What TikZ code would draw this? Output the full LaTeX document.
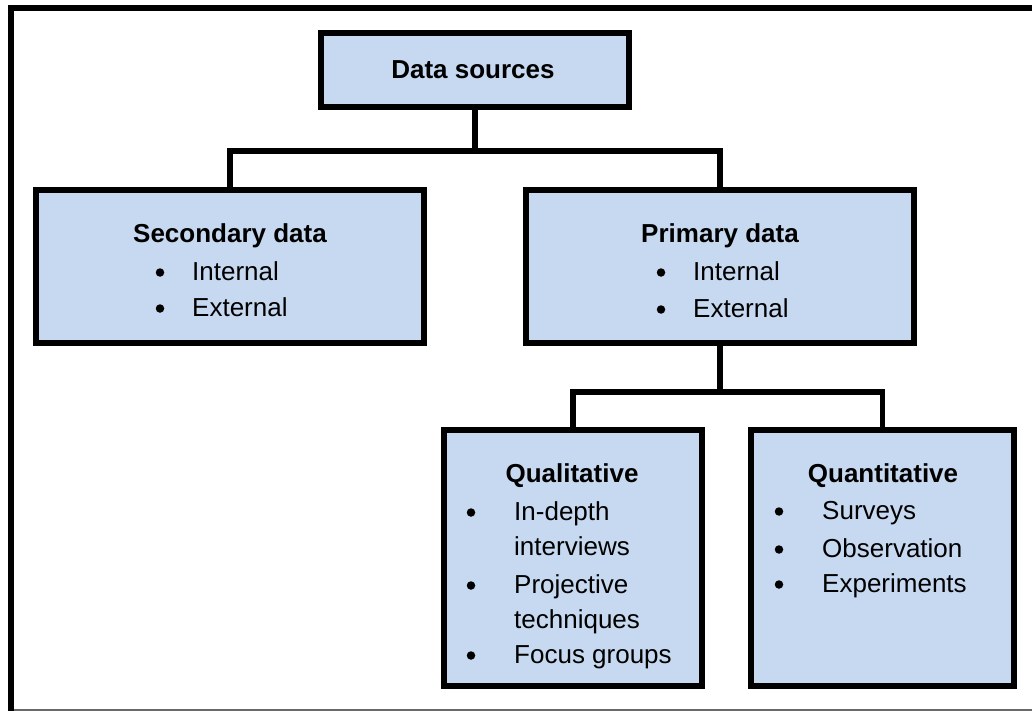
\documentclass[tikz,border=0pt]{standalone}
\usepackage{fontspec}
\setmainfont{Liberation Sans}
\definecolor{boxfill}{RGB}{198,217,241}
\definecolor{rulegray}{RGB}{105,105,105}
\begin{document}
\begin{tikzpicture}[x=1pt,y=-1pt,
  box/.style={rectangle, draw=black, fill=boxfill, line width=6pt, inner sep=0pt},
  link/.style={draw=black, line width=5.5pt, line join=miter},
  title/.style={anchor=base, inner sep=0pt, font=\fontsize{26}{30}\selectfont\bfseries},
  item/.style={anchor=base west, inner sep=0pt, font=\fontsize{26}{30}\selectfont},
  dot/.style={circle, fill=black, inner sep=0pt, minimum size=8.5pt, yshift=7.5pt},
]
\useasboundingbox (0,0) rectangle (1032,711);

% frame
\draw[line width=6pt, line join=miter] (1032,8) -- (11,8) -- (11,711);
\draw[rulegray, line width=1.5pt] (14,710) -- (1032,710);

% boxes
\node[box, minimum width=308pt, minimum height=74pt] (ds) at (475,70) {};
\node[box, minimum width=388pt, minimum height=153pt] (sec) at (230,266.5) {};
\node[box, minimum width=388pt, minimum height=153pt] (pri) at (720,266.5) {};
\node[box, minimum width=258pt, minimum height=256pt] (qual) at (573,558) {};
\node[box, minimum width=263pt, minimum height=256pt] (quan) at (882.5,558) {};

% connectors
\path (ds.south) ++(0,41) coordinate (j1);
\path (pri.south) ++(0,46) coordinate (j2);
\draw[link] (ds.south) -- (j1);
\draw[link] (sec.north) |- (j1) -| (pri.north);
\draw[link] (pri.south) -- (j2);
\draw[link] (qual.north) |- (j2) -| (quan.north);

% texts (bullets sit a little above each baseline)
\node[title] (dsT) at (473,79) {Data sources};

\node[title] (secT) at (230,242) {Secondary data};
\node[dot] (secD1) at (160,280) {};
\node[dot] (secD2) at (160,316) {};
\node[item] (secI1) at (192,280) {Internal};
\node[item] (secI2) at (192,316) {External};

\node[title] (priT) at (720,243) {Primary data};
\node[dot] (priD1) at (661,280) {};
\node[dot] (priD2) at (661,317) {};
\node[item] (priI1) at (693,280) {Internal};
\node[item] (priI2) at (693,317) {External};

\node[title] (qualT) at (572,482) {Qualitative};
\node[dot] (qualD1) at (471,520) {};
\node[dot] (qualD2) at (471,593) {};
\node[dot] (qualD3) at (471,663) {};
\node[item] (qualI1) at (514,520) {In-depth};
\node[item] (qualI1b) at (514,555) {interviews};
\node[item] (qualI2) at (514,593) {Projective};
\node[item] (qualI2b) at (514,628) {techniques};
\node[item] (qualI3) at (514,663) {Focus groups};

\node[title] (quanT) at (883,482) {Quantitative};
\node[dot] (quanD1) at (779,519) {};
\node[dot] (quanD2) at (779,557) {};
\node[dot] (quanD3) at (779,592) {};
\node[item] (quanI1) at (822,519) {Surveys};
\node[item] (quanI2) at (822,557) {Observation};
\node[item] (quanI3) at (822,592) {Experiments};
\end{tikzpicture}
\end{document}
